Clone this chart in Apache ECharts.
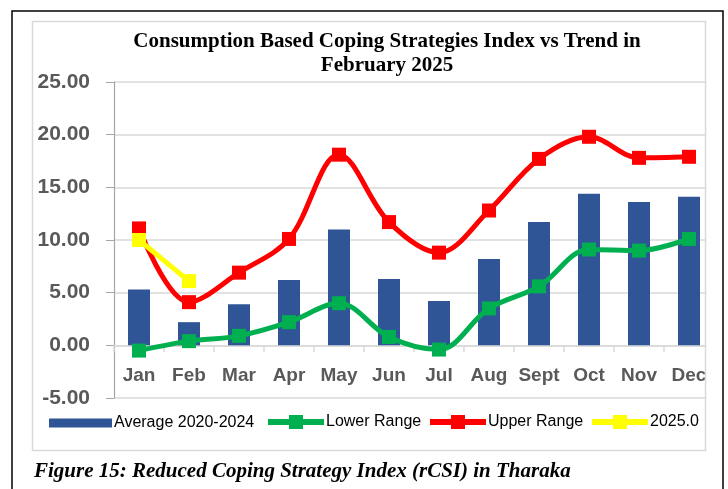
<!DOCTYPE html>
<html><head><meta charset="utf-8">
<script src="https://cdn.jsdelivr.net/npm/echarts@6/dist/echarts.min.js"></script>
<style>html,body{margin:0;padding:0;background:#fff}#c{width:728px;height:489px}</style>
</head><body><div id="c"></div>
<script>
const categories = ['Jan','Feb','Mar','Apr','May','Jun','Jul','Aug','Sept','Oct','Nov','Dec'];
const average = [5.3, 2.2, 3.9, 6.2, 11.0, 6.3, 4.2, 8.2, 11.7, 14.4, 13.6, 14.1];
const lowerRange = [-0.5, 0.4, 0.9, 2.2, 4.0, 0.8, -0.4, 3.5, 5.6, 9.1, 9.0, 10.1];
const upperRange = [11.1, 4.1, 6.9, 10.1, 18.1, 11.7, 8.8, 12.8, 17.7, 19.8, 17.8, 17.9];
const y2025 = [10.0, 6.1, null, null, null, null, null, null, null, null, null, null];
const yTicks = [-5, 0, 5, 10, 15, 20, 25];

const chart = echarts.init(document.getElementById('c'));
const gray = '#595959';
const lineIcon = 'path://M0,4h21V0h14v4h21v6H35v4H21v-4H0z';
const lineSeries = (name, data, color) => ({
  name, type: 'line', data, smooth: 0.35, symbol: 'rect', symbolSize: 14,
  lineStyle: {color, width: 5}, itemStyle: {color}, z: 3, connectNulls: false
});
const legendText = {fontSize: 16, color: '#000', fontFamily: 'Liberation Sans', padding: [0,0,0,-3]};
const mkLegend = (name, left, top, icon, w, h) => ({
  data: [{name, icon}], left, top, itemWidth: w, itemHeight: h, padding: 0,
  textStyle: legendText, itemGap: 0
});
chart.setOption({
  animation: false,
  title: {
    text: 'Consumption Based Coping Strategies Index vs Trend in\nFebruary 2025',
    left: 387, top: 30, textAlign: 'center', padding: 0,
    textStyle: {fontFamily: 'Liberation Serif', fontWeight: 'bold', fontSize: 21, lineHeight: 24, color: '#000'}
  },
  grid: {left: 114, right: 14, top: 82, bottom: 91},
  xAxis: {
    type: 'category', data: categories,
    axisLine: {onZero: true, lineStyle: {color: '#D9D9D9', width: 1.5}},
    axisTick: {show: true, length: 7, lineStyle: {color: '#D9D9D9', width: 1.5}},
    axisLabel: {interval: 0, margin: -32, color: gray, fontWeight: 'bold', fontSize: 19, fontFamily: 'Liberation Sans'}
  },
  yAxis: {
    type: 'value', min: yTicks[0], max: yTicks[yTicks.length-1], interval: 5,
    axisLine: {show: true, lineStyle: {color: '#A6A6A6', width: 1.2}},
    axisTick: {show: true, length: 8, lineStyle: {color: '#A6A6A6'}},
    splitLine: {lineStyle: {color: '#D9D9D9', width: 1.5}},
    axisLabel: {margin: 24, color: gray, fontWeight: 'bold', fontSize: 21, fontFamily: 'Liberation Sans',
      formatter: v => v.toFixed(2)}
  },
  legend: [
    mkLegend('Average 2020-2024', 49, 415, 'rect', 63, 9),
    mkLegend('Lower Range', 268, 414, lineIcon, 56, 14),
    mkLegend('Upper Range', 430, 414, lineIcon, 56, 14),
    mkLegend('2025.0', 592, 414, lineIcon, 56, 14)
  ],
  series: [
    {name: 'Average 2020-2024', type: 'bar', data: average, barWidth: 22,
     itemStyle: {color: '#2F5597'}, z: 2},
    lineSeries('Lower Range', lowerRange, '#00B050'),
    lineSeries('Upper Range', upperRange, '#FF0000'),
    Object.assign(lineSeries('2025.0', y2025, '#FFFF00'), {smooth: false})
  ],
  graphic: [
    {type: 'rect', shape: {x: 705.5, y: 12, width: 16, height: 480}, style: {fill: '#fff'}, z: 100},
    {type: 'rect', shape: {x: 32.5, y: 21.5, width: 673, height: 429}, style: {fill: null, stroke: '#D9D9D9', lineWidth: 1.5}, z: 101},
    {type: 'rect', shape: {x: 12, y: 11, width: 711, height: 490}, style: {fill: null, stroke: '#000', lineWidth: 1.5}, z: 101},
    {type: 'text', left: 34, top: 461, z: 101,
     style: {text: 'Figure 15: Reduced Coping Strategy Index (rCSI) in Tharaka', fill: '#000',
       font: 'italic bold 21px "Liberation Serif"'}}
  ]
});
</script></body></html>
